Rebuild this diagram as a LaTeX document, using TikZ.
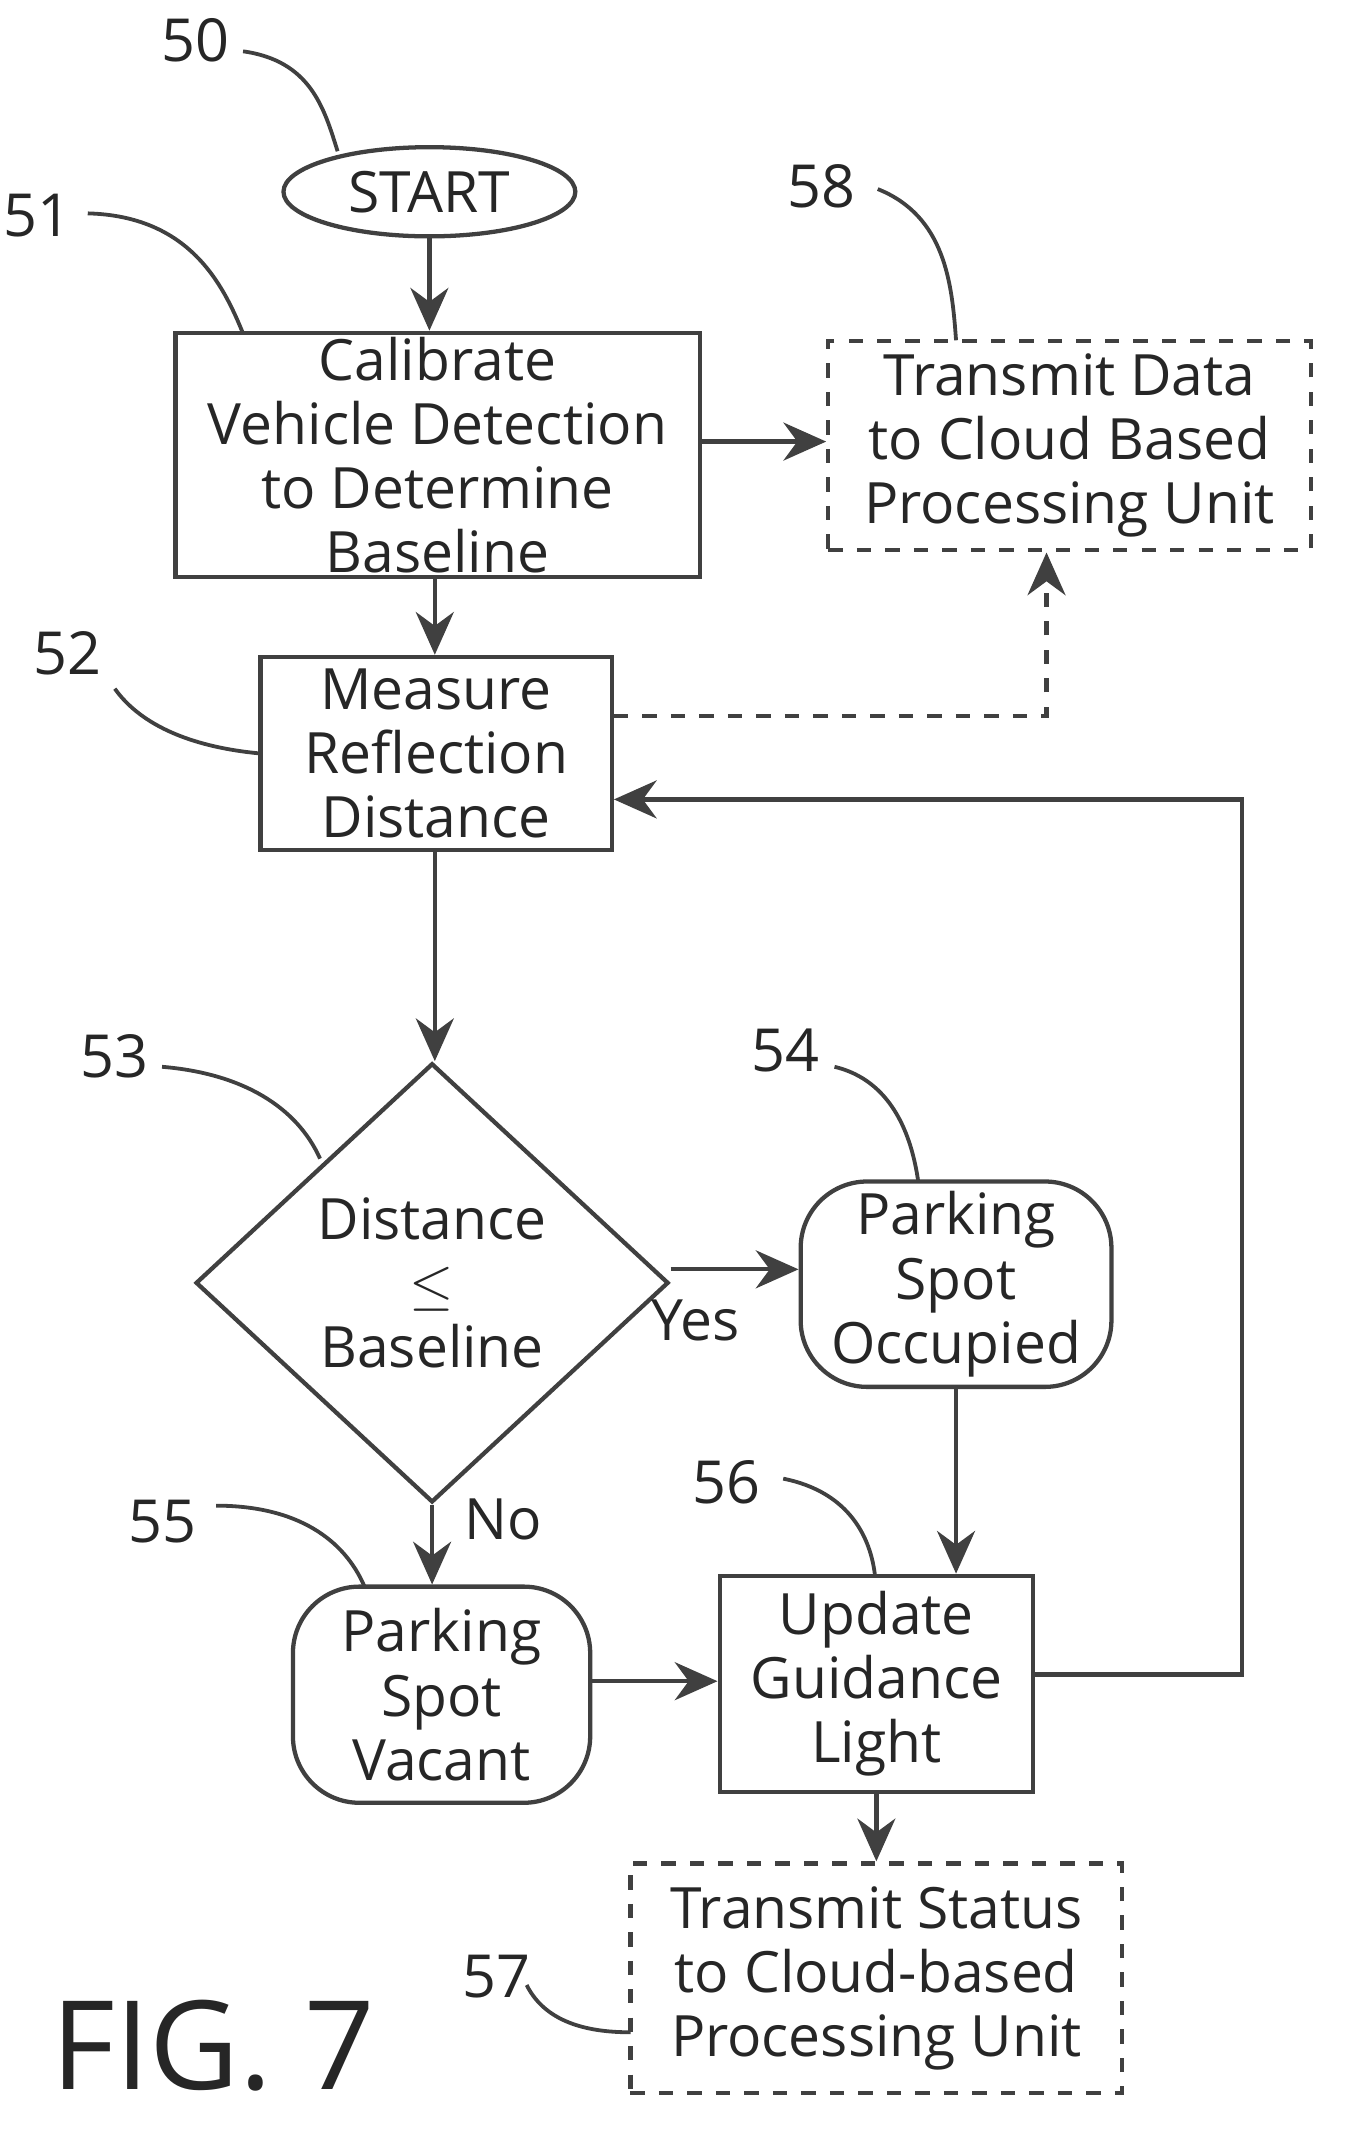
\documentclass[tikz,border=0pt]{standalone}
\usepackage{fontspec}
\setmainfont{Open Sans}
\usetikzlibrary{shapes.geometric,arrows.meta}
\begin{document}
\begin{tikzpicture}[x=0.01cm,y=-0.01cm,
  every node/.style={font=\fontsize{12}{13.5}\selectfont,align=center,text=black!85},
  ln/.style={draw=black!75,line width=0.9pt},
  box/.style={ln,rectangle,inner sep=0pt},
  dbox/.style={box,dashed},
  rbox/.style={box,rounded corners=14pt},
  arr/.style={ln,-{Stealth[length=9pt,width=8pt]}},
  lead/.style={draw=black!75,line width=0.8pt},
  num/.style={font=\fontsize{12.5}{13}\selectfont}]
\useasboundingbox (0,0) rectangle (1000,1587);
\node[ln,ellipse,minimum width=2.16cm,minimum height=0.66cm,inner sep=0pt] (s) at (318,142) {START};
\node[box,minimum width=3.88cm,minimum height=1.81cm] (b51) at (324,337) {Calibrate\\Vehicle Detection\\to Determine\\Baseline};
\node[dbox,minimum width=3.57cm,minimum height=1.55cm] (b58) at (792,330) {Transmit Data\\to Cloud Based\\Processing Unit};
\node[box,minimum width=2.6cm,minimum height=1.43cm] (b52) at (323,558) {Measure\\Reflection\\Distance};
\node[ln,diamond,minimum width=3.5cm,minimum height=3.25cm,inner sep=0pt,text width=1.8cm] (b53) at (320,950) {Distance\\$\leq$\\Baseline};
\node[rbox,minimum width=2.3cm,minimum height=1.52cm] (b54) at (708,951) {Parking\\Spot\\Occupied};
\node[rbox,minimum width=2.2cm,minimum height=1.6cm] (b55) at (327,1255) {Parking\\Spot\\Vacant};
\node[box,minimum width=2.32cm,minimum height=1.6cm] (b56) at (649,1247) {Update\\Guidance\\Light};
\node[dbox,minimum width=3.64cm,minimum height=1.7cm] (b57) at (649,1465) {Transmit Status\\to Cloud-based\\Processing Unit};
\node[font=\fontsize{26}{28}\selectfont] (fig) at (158,1515) {FIG. 7};
\node[num] (n50) at (145,30) {50};
\node[num] (n51) at (28,160) {51};
\node[num] (n58) at (608,138) {58};
\node[num] (n52) at (50,484) {52};
\node[num] (n53) at (85,782) {53};
\node[num] (n54) at (582,778) {54};
\node[num] (n55) at (120,1127) {55};
\node[num] (n56) at (538,1098) {56};
\node[num] (n57) at (368,1464) {57};
\node (yes) at (515,978) {Yes};
\node (no) at (373,1125) {No};
\coordinate (c1) at (775,530);
\coordinate (c2) at (920,1240);
\coordinate (c3) at (920,592);
\draw[arr] (s.south) -- (b51.north -| s.south);
\draw[arr] (b51.east |- 0,327) -- (b58.west |- 0,327);
\draw[arr] (b51.south -| 322,0) -- (b52.north -| 322,0);
\draw[arr,dashed] (b52.east |- 0,530) -- (c1) -- (b58.south -| c1);
\draw[arr] (b52.south -| 322,0) -- (b53.north -| 322,0);
\draw[arr] (b53.east |- 0,940) -- (b54.west |- 0,940);
\draw[arr] (b53.south) -- (b55.north -| b53.south);
\draw[arr] (b54.south -| 708,0) -- (b56.north -| 708,0);
\draw[arr] (b55.east |- 0,1245) -- (b56.west |- 0,1245);
\draw[arr] (b56.east |- c2) -- (c2) -- (c3) -- (b52.east |- c3);
\draw[arr] (b56.south) -- (b57.north);
\draw[lead] (180,38) .. controls (230,45) and (240,80) .. (250,112);
\draw[lead] (65,158) .. controls (140,160) and (165,210) .. (180,247);
\draw[lead] (650,140) .. controls (700,160) and (705,210) .. (708,252);
\draw[lead] (85,510) .. controls (110,545) and (160,555) .. (193,558);
\draw[lead] (120,790) .. controls (180,795) and (220,820) .. (237,858);
\draw[lead] (618,790) .. controls (660,800) and (675,840) .. (680,875);
\draw[lead] (160,1115) .. controls (220,1115) and (255,1140) .. (270,1175);
\draw[lead] (580,1095) .. controls (630,1105) and (645,1140) .. (648,1167);
\draw[lead] (390,1470) .. controls (405,1500) and (440,1505) .. (467,1505);
\end{tikzpicture}
\end{document}
